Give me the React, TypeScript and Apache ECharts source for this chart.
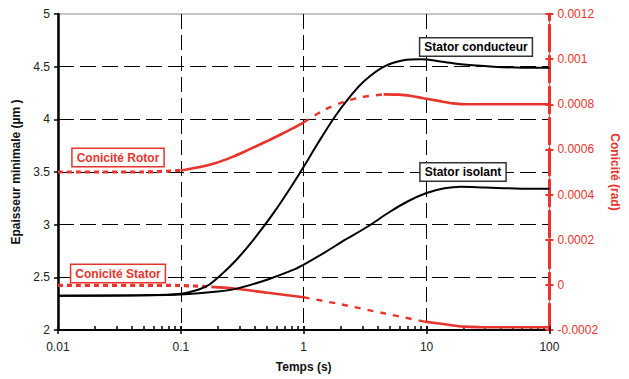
import { useEffect, useRef } from 'react';
import * as echarts from 'echarts';

const FONT = '"Liberation Sans", Arial, Helvetica, sans-serif';
const RED = '#e8342c';
const BLACK = '#000000';

// Tick labels
const xTickLabels = ['0.01', '0.1', '1', '10', '100'];
const leftTickLabels = ['2', '2.5', '3', '3.5', '4', '4.5', '5'];
const rightTickLabels = ['-0.0002', '0', '0.0002', '0.0004', '0.0006', '0.0008', '0.001', '0.0012'];

// Epaisseur minimale (µm), stator conducteur
const conducteurT = [0.01, 0.05, 0.1, 0.14, 0.17, 0.22, 0.28, 0.35, 0.45, 0.6, 0.8, 1, 1.3, 1.78, 2.4, 3.16, 4.5, 6.5, 9, 13, 20, 35, 60, 100];
const conducteurE = [2.325, 2.33, 2.345, 2.385, 2.43, 2.54, 2.66, 2.79, 2.95, 3.15, 3.37, 3.55, 3.77, 4.02, 4.22, 4.37, 4.5, 4.56, 4.57, 4.55, 4.52, 4.5, 4.49, 4.49];

// Epaisseur minimale (µm), stator isolant
const isolantT = [0.01, 0.05, 0.1, 0.2, 0.29, 0.51, 0.84, 1, 1.5, 2.2, 3.3, 5, 7, 10, 14, 19, 30, 60, 100];
const isolantE = [2.325, 2.33, 2.337, 2.365, 2.395, 2.48, 2.575, 2.62, 2.74, 2.86, 2.98, 3.12, 3.22, 3.3, 3.345, 3.36, 3.352, 3.342, 3.34];

// Conicité rotor (rad)
const rotorT = [0.01, 0.05, 0.1, 0.14, 0.19, 0.26, 0.35, 0.5, 0.65, 0.82, 1, 1.47, 2.13, 3, 4.48, 6, 7.5, 9.4, 12.5, 16.4, 22, 40, 100];
const rotorC = [0.0005, 0.0005, 0.000507, 0.000521, 0.000539, 0.000566, 0.000597, 0.000636, 0.000666, 0.000694, 0.00072, 0.000775, 0.000811, 0.000832, 0.000844, 0.000843, 0.000837, 0.000827, 0.000815, 0.000804, 0.0008, 0.0008, 0.0008];
const rotorBreaks = [0.1, 1, 4.48];

// Conicité stator (rad)
const statorT = [0.01, 0.05, 0.1, 0.178, 0.27, 0.51, 1, 2, 4.5, 9.6, 14.6, 20, 35, 100];
const statorC = [-0.000002, -0.000002, -0.000003, -0.000009, -0.000016, -0.000035, -0.000055, -0.000086, -0.000126, -0.000163, -0.000176, -0.000185, -0.000188, -0.000188];
const statorBreaks = [0.178, 1, 9.6];

const toPoints = (ts: number[], vs: number[]) => ts.map((t, i) => [Math.log10(t), vs[i]]);

// Splits a curve into consecutive pieces at the given times
function pieces(ts: number[], vs: number[], breaks: number[]) {
  const bounds = [ts[0], ...breaks, ts[ts.length - 1]];
  const out: number[][][] = [];
  for (let i = 0; i < bounds.length - 1; i++) {
    const lo = bounds[i];
    const hi = bounds[i + 1];
    const pts: number[][] = [];
    ts.forEach((t, j) => {
      if (t >= lo - 1e-12 && t <= hi + 1e-12) pts.push([Math.log10(t), vs[j]]);
    });
    out.push(pts);
  }
  return out;
}

const pieceStyles = [
  { width: 3.2, type: [5, 4] as number[] },
  { width: 2.6, type: 'solid' as const },
  { width: 2.4, type: [6, 7] as number[] },
  { width: 2.6, type: 'solid' as const },
];

const minorTicks: number[] = [];
for (let n = -2; n < 2; n++) {
  for (let k = 1; k <= 10; k++) minorTicks.push(n + Math.log10(k));
}

export default function App() {
  const ref = useRef<HTMLDivElement>(null);

  useEffect(() => {
    if (!ref.current) return;
    const chart = echarts.init(ref.current, undefined, { renderer: 'svg' });

    const redSeries: any[] = [];
    [
      { name: 'Conicité Rotor', parts: pieces(rotorT, rotorC, rotorBreaks) },
      { name: 'Conicité Stator', parts: pieces(statorT, statorC, statorBreaks) },
    ].forEach(({ name, parts }) => {
      parts.forEach((data, i) => {
        redSeries.push({
          name,
          type: 'line',
          xAxisIndex: 0,
          yAxisIndex: 1,
          data,
          smooth: 0.3,
          symbol: 'none',
          lineStyle: { color: RED, width: pieceStyles[i].width, type: pieceStyles[i].type, cap: 'butt' },
          z: 3,
        });
      });
    });

    const labelBox = (text: string, x: number, y: number, color: string) => ({
      type: 'text',
      x,
      y,
      z: 20,
      style: {
        text,
        fill: color,
        font: `bold 12px ${FONT}`,
        align: 'center',
        verticalAlign: 'middle',
        backgroundColor: '#ffffff',
        borderColor: color === RED ? RED : '#333333',
        borderWidth: 1.5,
        padding: [3, 4, 2, 4],
      },
    });

    chart.setOption({
      animation: false,
      backgroundColor: '#ffffff',
      grid: {
        left: 58,
        right: 75,
        top: 14,
        bottom: 49,
        show: true,
        borderColor: '#8c8c8c',
        borderWidth: 1,
      },
      xAxis: [
        {
          type: 'value',
          min: -2,
          max: 2,
          interval: 1,
          name: 'Temps (s)',
          nameLocation: 'middle',
          nameGap: 31,
          nameTextStyle: { fontFamily: FONT, fontWeight: 'bold', fontSize: 12, color: '#111' },
          axisLine: { show: true, onZero: false, lineStyle: { color: BLACK, width: 2 } },
          axisTick: { show: true, length: 4, lineStyle: { color: BLACK, width: 1.5 } },
          axisLabel: {
            margin: 11,
            fontFamily: FONT,
            fontSize: 12,
            color: '#222',
            formatter: (v: number) => xTickLabels[Math.round(v) + 2],
          },
          splitLine: {
            show: true,
            showMinLine: false,
            showMaxLine: false,
            lineStyle: { color: BLACK, width: 1, type: [15, 6] },
          },
        },
        {
          type: 'value',
          min: -2,
          max: 2,
          position: 'bottom',
          axisLine: { show: false, onZero: false },
          axisLabel: { show: false },
          splitLine: { show: false },
          axisTick: {
            show: true,
            inside: true,
            length: 4,
            customValues: minorTicks,
            lineStyle: { color: BLACK, width: 1.5 },
          },
        },
      ],
      yAxis: [
        {
          type: 'value',
          min: 2,
          max: 5,
          interval: 0.5,
          position: 'left',
          name: 'Epaisseur minimale (µm )',
          nameLocation: 'middle',
          nameGap: 29,
          nameTextStyle: { fontFamily: FONT, fontWeight: 'bold', fontSize: 12, color: '#111' },
          axisLine: { show: true, onZero: false, lineStyle: { color: BLACK, width: 2.5 } },
          axisTick: { show: true, length: 4, lineStyle: { color: BLACK, width: 1.5 } },
          axisLabel: {
            margin: 8,
            fontFamily: FONT,
            fontSize: 12,
            color: '#222',
            formatter: (v: number) => leftTickLabels[Math.round((v - 2) / 0.5)],
          },
          splitLine: {
            show: true,
            showMinLine: false,
            showMaxLine: false,
            lineStyle: { color: BLACK, width: 1, type: [16, 6] },
          },
        },
        {
          type: 'value',
          min: -0.0002,
          max: 0.0012,
          interval: 0.0002,
          position: 'right',
          name: 'Conicité (rad)',
          nameLocation: 'middle',
          nameRotate: -90,
          nameGap: 52,
          nameTextStyle: { fontFamily: FONT, fontWeight: 'bold', fontSize: 12, color: RED },
          axisLine: { show: true, onZero: false, lineStyle: { color: RED, width: 3, type: [26, 5] } },
          axisTick: { show: true, length: 4, lineStyle: { color: RED, width: 2 } },
          axisLabel: {
            margin: 8,
            fontFamily: FONT,
            fontSize: 12,
            color: RED,
            formatter: (v: number) => rightTickLabels[Math.round((v + 0.0002) / 0.0002)],
          },
          splitLine: { show: false },
        },
        {
          type: 'value',
          min: -0.0002,
          max: 0.0012,
          interval: 0.0002,
          position: 'right',
          axisLine: { show: false, onZero: false },
          axisLabel: { show: false },
          splitLine: { show: false },
          axisTick: { show: true, inside: true, length: 4, lineStyle: { color: RED, width: 2 } },
        },
      ],
      series: [
        ...redSeries,
        {
          name: 'Stator conducteur',
          type: 'line',
          xAxisIndex: 0,
          yAxisIndex: 0,
          data: toPoints(conducteurT, conducteurE),
          smooth: 0.3,
          symbol: 'none',
          lineStyle: { color: BLACK, width: 2 },
          z: 4,
        },
        {
          name: 'Stator isolant',
          type: 'line',
          xAxisIndex: 0,
          yAxisIndex: 0,
          data: toPoints(isolantT, isolantE),
          smooth: 0.3,
          symbol: 'none',
          lineStyle: { color: BLACK, width: 2 },
          z: 4,
        },
      ],
      graphic: [
        labelBox('Stator conducteur', 476, 47, BLACK),
        labelBox('Stator isolant', 463, 172, BLACK),
        labelBox('Conicité Rotor', 118, 157.5, RED),
        labelBox('Conicité Stator', 118, 273.5, RED),
      ],
    });

    return () => chart.dispose();
  }, []);

  return (
    <div
      ref={ref}
      style={{ position: 'absolute', left: 0, top: 0, width: 629, height: 379, background: '#fff' }}
    />
  );
}
